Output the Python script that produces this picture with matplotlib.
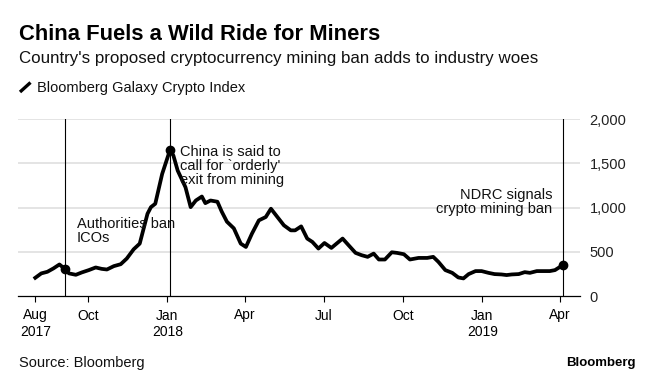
import matplotlib
matplotlib.use("Agg")
import matplotlib.pyplot as plt
from matplotlib.lines import Line2D
import pandas as pd

plt.rcParams["font.family"] = ["Liberation Sans", "DejaVu Sans"]

# Bloomberg Galaxy Crypto Index
dates = [
    "2017-08-01", "2017-08-08", "2017-08-15", "2017-08-22", "2017-08-29", "2017-09-05",
    "2017-09-09", "2017-09-17", "2017-09-24", "2017-10-02", "2017-10-10", "2017-10-17",
    "2017-10-23", "2017-10-31", "2017-11-08", "2017-11-15", "2017-11-23", "2017-11-30",
    "2017-12-09", "2017-12-13", "2017-12-18", "2017-12-26", "2018-01-04", "2018-01-08",
    "2018-01-13", "2018-01-22", "2018-01-28", "2018-02-03", "2018-02-10", "2018-02-14",
    "2018-02-20", "2018-02-28", "2018-03-05", "2018-03-11", "2018-03-19", "2018-03-27",
    "2018-04-02", "2018-04-09", "2018-04-17", "2018-04-25", "2018-05-01", "2018-05-08",
    "2018-05-16", "2018-05-24", "2018-05-29", "2018-06-05", "2018-06-12", "2018-06-18",
    "2018-06-25", "2018-07-02", "2018-07-10", "2018-07-16", "2018-07-23", "2018-07-30",
    "2018-08-07", "2018-08-14", "2018-08-21", "2018-08-28", "2018-09-03", "2018-09-10",
    "2018-09-18", "2018-09-24", "2018-10-02", "2018-10-09", "2018-10-19", "2018-10-29",
    "2018-11-05", "2018-11-11", "2018-11-19", "2018-11-27", "2018-12-04", "2018-12-10",
    "2018-12-16", "2018-12-24", "2018-12-31", "2019-01-08", "2019-01-15", "2019-01-23",
    "2019-01-29", "2019-02-04", "2019-02-12", "2019-02-19", "2019-02-25", "2019-03-05",
    "2019-03-13", "2019-03-20", "2019-03-26", "2019-04-04",
]
values = [
    206, 256, 274, 312, 357, 300,
    256, 240, 267, 293, 323, 307,
    300, 338, 360, 424, 529, 593,
    931, 1006, 1044, 1382, 1650, 1590,
    1419, 1231, 1006, 1081, 1126, 1051,
    1081, 1067, 955, 841, 766, 593,
    555, 706, 856, 894, 988, 900,
    800, 743, 743, 788, 650, 612,
    537, 600, 544, 593, 650, 574,
    488, 462, 443, 480, 413, 413,
    495, 488, 473, 413, 431, 431,
    443, 386, 293, 262, 210, 199,
    248, 282, 282, 262, 248, 244,
    237, 244, 248, 270, 262, 282,
    282, 282, 293, 349,
]

event_dates = ["2017-09-05", "2018-01-04", "2019-04-04"]
event_labels = ["Authorities ban\nICOs", "China is said to\ncall for `orderly'\nexit from mining",
                "NDRC signals\ncrypto mining ban"]

tick_dates = ["2017-08-01", "2017-10-01", "2018-01-01", "2018-04-01",
              "2018-07-01", "2018-10-01", "2019-01-01", "2019-04-01"]
tick_labels = ["Aug\n2017", "Oct", "Jan\n2018", "Apr", "Jul", "Oct", "Jan\n2019", "Apr"]
y_ticks = [0, 500, 1000, 1500, 2000]

df = pd.DataFrame({"date": pd.to_datetime(dates), "value": values})
ev = pd.to_datetime(event_dates)

W, H = 650, 378
fig = plt.figure(figsize=(W / 100, H / 100), dpi=100)
fig.patch.set_facecolor("white")
ax = fig.add_axes([18 / W, 1 - 296 / H, (580 - 18) / W, (296 - 119.3) / H])

ax.set_xlim(pd.Timestamp("2017-07-12"), pd.Timestamp("2019-04-24"))
ax.set_ylim(0, 2000)

for y in y_ticks[1:]:
    ax.axhline(y, color="#e2e2e2", lw=1.3, zorder=0)

for d in ev:
    ax.axvline(d, color="black", lw=0.8, zorder=1)

ax.plot(df["date"], df["value"], color="black", lw=2.7, solid_joinstyle="round", zorder=3)
ev_vals = df.set_index("date").loc[ev, "value"]
ax.plot(ev, ev_vals, "o", color="black", ms=6, zorder=4)

# annotations
ax.text(pd.Timestamp("2017-09-18"), 614, event_labels[0], fontsize=10.5, va="baseline",
        ha="left", linespacing=1.0, color="#111111")
ax.text(pd.Timestamp("2018-01-16"), 1264, event_labels[1], fontsize=10.5, va="baseline",
        ha="left", linespacing=1.0, color="#111111")
ax.text(pd.Timestamp("2019-03-23"), 943, event_labels[2], fontsize=10.5, va="baseline",
        ha="right", linespacing=1.0, color="#111111", multialignment="right")

ax.set_xticks(pd.to_datetime(tick_dates))
ax.set_xticklabels(tick_labels)
ax.tick_params(axis="x", length=4, width=0.8, pad=5, labelsize=10, colors="black",
               direction="out")
ax.yaxis.tick_right()
ax.set_yticks(y_ticks)
ax.set_yticklabels([f"{v:,}" for v in y_ticks])
ax.tick_params(axis="y", length=0, pad=7, labelsize=10.5, labelcolor="#222222")
for lab in ax.get_yticklabels():
    lab.set_horizontalalignment("left")

for s in ["top", "left", "right"]:
    ax.spines[s].set_visible(False)
ax.spines["bottom"].set_linewidth(0.9)
ax.set_facecolor("white")


def fy(px):
    return 1 - px / H


fig.text(19 / W, fy(39.5), "China Fuels a Wild Ride for Miners", fontsize=15.8,
         fontweight="bold", va="baseline", ha="left")
fig.text(19 / W, fy(63.5), "Country's proposed cryptocurrency mining ban adds to industry woes",
         fontsize=12.2, va="baseline", ha="left", color="#111111")
fig.lines.append(Line2D([20 / W, 30.5 / W], [fy(92), fy(82.5)], transform=fig.transFigure,
                        color="black", lw=2.4, solid_capstyle="butt"))
fig.text(36.7 / W, fy(92.3), "Bloomberg Galaxy Crypto Index", fontsize=10.5,
         va="baseline", ha="left", color="#111111")
fig.text(19 / W, fy(366.7), "Source: Bloomberg", fontsize=10.5, va="baseline", ha="left",
         color="#111111")
fig.text(636 / W, fy(366), "Bloomberg", fontsize=9.5, fontweight="bold", va="baseline",
         ha="right")

fig.savefig("out.png", dpi=100, facecolor="white")
